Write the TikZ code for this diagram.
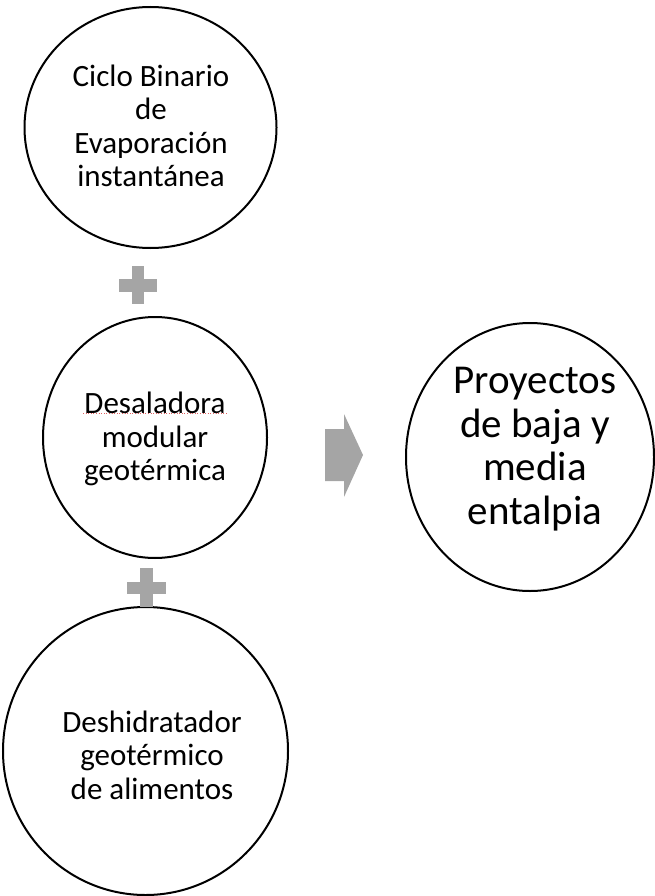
\documentclass[tikz,border=0pt]{standalone}
\usepackage{fontspec}
\setmainfont{Carlito}
\usetikzlibrary{shapes.geometric}
\definecolor{plusgray}{HTML}{A5A5A5}
\definecolor{spellred}{HTML}{E06060}
\tikzset{
  bubble/.style={draw=black, line width=2pt, ellipse, inner sep=0pt, fill=none},
  lbl/.style={align=center, inner sep=0pt, font=\fontsize{31pt}{33.5pt}\selectfont},
  biglbl/.style={align=center, inner sep=0pt, font=\fontsize{41pt}{43.5pt}\selectfont},
  graysym/.style={fill=plusgray, draw=none}
}
\begin{document}
\begin{tikzpicture}[x=1pt, y=-1pt]
\useasboundingbox (0,0) rectangle (655,896);
% circles
\node[bubble, minimum width=252pt, minimum height=241pt] (c1) at (150.5,127.5) {};
\node[bubble, minimum width=224pt, minimum height=241pt] (c2) at (155,437.5) {};
\node[bubble, minimum width=285pt, minimum height=288pt] (c3) at (145.5,751) {};
\node[bubble, minimum width=248pt, minimum height=268pt] (c4) at (530,457) {};
% texts
\node[lbl] (t1) at (151,126) {Ciclo Binario\\de\\Evaporación\\instantánea};
\node[lbl] (t2) at (155,439) {Desaladora\\modular\\geotérmica};
\node[lbl] (t3) at (152,755) {Deshidratador\\geotérmico\\de alimentos};
\node[biglbl] (t4) at (535,449) {Proyectos\\de baja y\\media\\entalpia};
% spell-check underline
\draw[spellred, line width=0.6pt, dotted] (83,413.5) -- (227,413.5);
% plus signs
\fill[graysym] (132,266) rectangle (144,304);
\fill[graysym] (119,279) rectangle (157,292);
\fill[graysym] (140,568) rectangle (153,607);
\fill[graysym] (127,582) rectangle (166,594);
% arrow
\fill[graysym] (325,429) -- (344,429) -- (344,414) -- (363,455) -- (344,497) -- (344,481) -- (325,481) -- cycle;
\end{tikzpicture}
\end{document}
